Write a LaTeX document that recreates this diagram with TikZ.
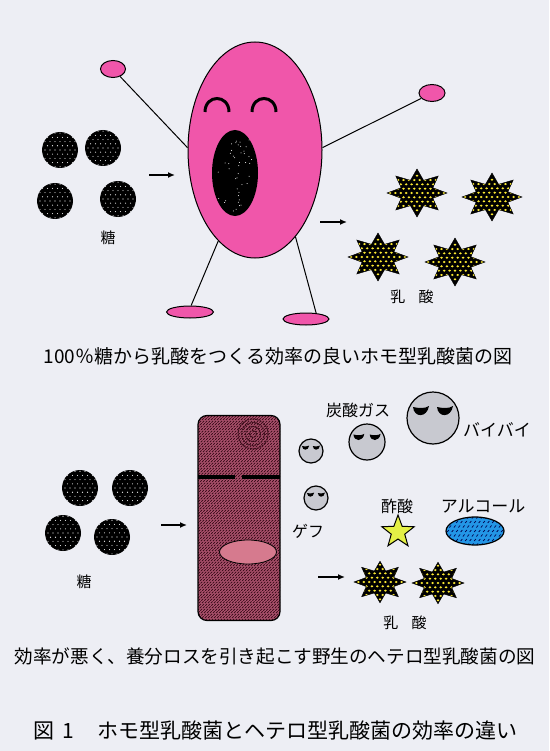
\documentclass[tikz,border=0pt]{standalone}
\usepackage{fontspec}
\setmainfont{Noto Sans CJK JP}
\usetikzlibrary{shapes.geometric, arrows.meta}

\definecolor{paper}{RGB}{237,238,244}
\definecolor{homopink}{RGB}{240,86,170}
\definecolor{heteromauve}{RGB}{178,86,114}
\definecolor{heterodark}{RGB}{62,14,28}
\definecolor{innerpink}{RGB}{214,122,142}
\definecolor{gasgray}{RGB}{200,201,208}
\definecolor{aceticyellow}{RGB}{228,240,70}
\definecolor{alcoholblue}{RGB}{35,150,230}
\definecolor{dotyellow}{RGB}{250,232,50}

\tikzset{
    arrow/.style = {line width=1.4pt, -{Latex[length=7pt, width=6pt]}},
    limb/.style = {line width=1pt},
    pinkpart/.style = {ellipse, draw=black, line width=1pt, fill=homopink, inner sep=0pt},
    tag/.style = {inner sep=0pt, font=\fontsize{15}{15}\selectfont},
    caption/.style = {inner sep=0pt, font=\fontsize{19}{19}\selectfont},
    sugar/.style = {circle, fill=black, inner sep=0pt, minimum size=36pt,
        path picture={
            \begin{scope}[shift={(path picture bounding box.center)}]
            \foreach \i in {-5,...,5}
                \foreach \j in {-5,...,5}
                    \fill[white] ({\i*5pt+mod(abs(\j),2)*2.5pt}, {\j*4.2pt}) circle (0.55pt);
            \end{scope}}},
    lactic/.style = {star, star points=8, star point ratio=1.75, draw=black, fill=black,
        inner sep=0pt, minimum size=#1, yscale=.8,
        path picture={
            \begin{scope}[shift={(path picture bounding box.center)}]
            \foreach \i in {-6,...,6}
                \foreach \j in {-6,...,6}
                    \fill[dotyellow] ({\i*5.4pt+mod(abs(\j),2)*2.7pt}, {\j*5.4pt}) circle (1.4pt);
            \end{scope}}},
    gas/.style = {circle, draw=black, line width=1.2pt, fill=gasgray, inner sep=0pt},
    sleepy/.pic = {
        \foreach \s in {-1,1}
            \fill[black] ({\s*12-8},-11) .. controls ({\s*12-7},0) and ({\s*12+6},0) .. ({\s*12+8},-12)
                .. controls ({\s*12+4},-9) and ({\s*12-4},-10) .. cycle;
    }
}

\begin{document}
\begin{tikzpicture}[x=1pt, y=-1pt]
\fill[paper] (0,0) rectangle (549,751);
\useasboundingbox (0,0) rectangle (549,751);

% --- homofermentative: the happy one
\node[pinkpart, minimum width=134pt, minimum height=216pt] (body) at (255,150) {};
\node[pinkpart, minimum width=25pt, minimum height=17pt] (lhand) at (113,69) {};
\node[pinkpart, minimum width=26pt, minimum height=17pt] (rhand) at (432,93) {};
\node[pinkpart, minimum width=47pt, minimum height=12pt] (lfoot) at (190,312) {};
\node[pinkpart, minimum width=46pt, minimum height=12pt] (rfoot) at (306,319) {};
\draw[limb] (lhand) -- (body.178);
\draw[limb] (rhand) -- (body.2);
\draw[limb] (body.248) -- (lfoot.80);
\draw[limb] (body.295) -- (rfoot.30);

\draw[line width=3pt] (205,112) .. controls (205,94) and (229,94) .. (229,112);
\draw[line width=3pt] (252,112) .. controls (252,94) and (276,94) .. (276,112);
\pgfmathsetseed{11}
\node[ellipse, fill=black, inner sep=0pt, minimum width=46pt, minimum height=86pt,
    path picture={
        \begin{scope}[shift={(path picture bounding box.center)}]
        \foreach \k in {1,...,45}
            \fill[white] ({rand*17pt}, {rand*38pt}) circle (0.5pt);
        \end{scope}}] (mouth) at (235,173) {};

\node[sugar] (s1) at (60,150) {};
\node[sugar] (s2) at (103,148) {};
\node[sugar] (s3) at (55,201) {};
\node[sugar] (s4) at (118,199) {};
\node[tag] (sugarlbl) at (108,238) {糖};

\coordinate (in1) at (149,175);
\coordinate (eat1) at (175,175);
\draw[arrow] (in1) -- (eat1);
\coordinate (out1) at (320,222);
\coordinate (emit1) at (347,222);
\draw[arrow] (out1) -- (emit1);

\node[lactic=60pt] (l1) at (417,193) {};
\node[lactic=60pt] (l2) at (492,197) {};
\node[lactic=60pt] (l3) at (378,257) {};
\node[lactic=60pt] (l4) at (455,262) {};
\node[tag] (lacticlbl) at (412,297) {乳\hspace{.9em}酸};

\node[caption] (homocap) at (278,356) {100％糖から乳酸をつくる効率の良いホモ型乳酸菌の図};

% --- heterofermentative: the wasteful one
\node[rectangle, rounded corners=9pt, draw=black, line width=1.2pt, fill=heteromauve,
    minimum width=82pt, minimum height=205pt, inner sep=0pt,
    path picture={
        \begin{scope}[shift={(path picture bounding box.center)}]
        \foreach \k in {-255,-252,...,45}
            \draw[heterodark, line width=1pt, dash pattern=on 2.5pt off 1pt]
                (\k pt,-105pt) -- ++(210pt,210pt);
        \end{scope}}] (hetero) at (239,518) {};
\foreach \r in {3.5,7.5,11.5,15}
    \draw[heterodark, line width=1.1pt, dash pattern=on 1.6pt off 0.9pt] (253,434) circle (\r);
\draw[line width=3.5pt] (198,477) -- (235,477);
\draw[line width=3.5pt] (242,477) -- (280,477);
\node[ellipse, draw=black, line width=.8pt, fill=innerpink, inner sep=0pt,
    minimum width=57pt, minimum height=24pt] (nucleus) at (248,552) {};

\node[sugar] (h1) at (80,488) {};
\node[sugar] (h2) at (130,488) {};
\node[sugar] (h3) at (63,533) {};
\node[sugar] (h4) at (112,537) {};
\node[tag] (sugarlbl2) at (84,582) {糖};

\coordinate (in2) at (161,525);
\coordinate (eat2) at (187,525);
\draw[arrow] (in2) -- (eat2);

\node[gas, minimum size=24pt] (burp1) at (311,451) {};
\node[gas, minimum size=24pt] (burp2) at (316,498) {};
\node[gas, minimum size=36pt] (co2) at (367,442) {};
\node[gas, minimum size=52pt] (byebye) at (433,418) {};
\path (burp1) pic[scale=.45] {sleepy};
\path (burp2) pic[scale=.45] {sleepy};
\path (co2) pic[scale=.68] {sleepy};
\path (byebye) pic {sleepy};

\node[tag, font=\fontsize{16}{16}\selectfont] (co2lbl) at (358,410) {炭酸ガス};
\node[tag, font=\fontsize{17}{17}\selectfont] (byelbl) at (497,430) {バイバイ};
\node[tag, font=\fontsize{16}{16}\selectfont] (burplbl) at (308,531) {ゲフ};
\node[tag, font=\fontsize{16}{16}\selectfont] (acetlbl) at (397,506) {酢酸};
\node[tag, font=\fontsize{17}{17}\selectfont] (alclbl) at (483,506) {アルコール};

\node[star, star points=5, star point ratio=2.4, draw=black, line width=1pt,
    fill=aceticyellow, inner sep=0pt, minimum size=34pt] (acetic) at (398,532) {};
\node[ellipse, draw=black, line width=1.2pt, fill=alcoholblue, inner sep=0pt,
    minimum width=58pt, minimum height=28pt,
    path picture={
        \begin{scope}[shift={(path picture bounding box.center)}]
        \foreach \i in {-7,...,7}
            \foreach \j in {-3,...,3}
                \draw[line width=.7pt, black!70!blue]
                    ({\i*4.5pt+mod(abs(\j),2)*2.2pt-0.8pt}, {\j*4.5pt-1pt}) -- ++(1.6pt,2pt);
        \end{scope}}] (alcohol) at (475,531) {};

\coordinate (out2) at (318,577);
\coordinate (emit2) at (345,577);
\draw[arrow] (out2) -- (emit2);
\node[lactic=52pt] (l5) at (380,582) {};
\node[lactic=52pt] (l6) at (438,583) {};
\node[tag] (lacticlbl2) at (405,623) {乳\hspace{.9em}酸};

\node[caption, font=\fontsize{18.6}{18.6}\selectfont] (heterocap) at (275,656)
    {効率が悪く、養分ロスを引き起こす野生のヘテロ型乳酸菌の図};

\node[caption, font=\fontsize{21}{21}\selectfont, anchor=west] (title) at (33,731)
    {図\hspace{.4em}1\hspace{1.1em}ホモ型乳酸菌とヘテロ型乳酸菌の効率の違い};
\end{tikzpicture}
\end{document}
